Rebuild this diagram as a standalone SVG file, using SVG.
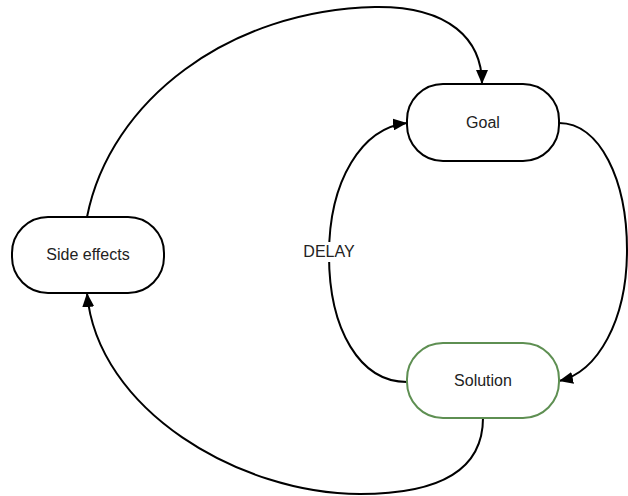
<svg xmlns="http://www.w3.org/2000/svg" width="628" height="496" viewBox="0 0 628 496">
  <style>
    .node { fill: #ffffff; stroke: #000000; stroke-width: 2; }
    .node.green { stroke: #5e8f52; }
    .edge { fill: none; stroke: #000000; stroke-width: 2; marker-end: url(#arrow); }
    .label { font-family: "Liberation Sans", Arial, sans-serif; font-size: 16px; fill: #222222; text-anchor: middle; }
  </style>
  <defs>
    <marker id="arrow" markerUnits="userSpaceOnUse" markerWidth="14" markerHeight="12" refX="14" refY="6" orient="auto">
      <path d="M0,0 L14,6 L0,12 z" fill="#000000"/>
    </marker>
  </defs>
  <rect width="628" height="496" fill="#ffffff"/>

  <g id="connectors">
    <!-- Side effects -> Goal (over the top) -->
    <path class="edge" d="M87,217 C 110,100 230,10 375,7 C 450,6 482,40 482,84"/>
    <!-- Goal -> Solution (right loop) -->
    <path class="edge" d="M559,123 C 600,123 627,180 627,250 C 627,320 598,372 559,381"/>
    <!-- Solution -> Goal (left loop, with DELAY) -->
    <path class="edge" d="M407,382 C 360,382 329,330 329,255 C 329,180 362,128 407,123"/>
    <!-- Solution -> Side effects (under the bottom) -->
    <path class="edge" d="M483,418 C 483,470 440,494 360,494 C 240,494 97,410 87,293"/>
    <g id="delay-label">
      <rect x="303" y="242" width="52" height="20" fill="#ffffff"/>
      <text class="label" x="329" y="257">DELAY</text>
    </g>
  </g>

  <g id="goal">
    <rect class="node" x="407" y="84" width="152" height="77" rx="36" ry="36"/>
    <text class="label" x="483" y="128">Goal</text>
  </g>
  <g id="side-effects">
    <rect class="node" x="12" y="217" width="152" height="76" rx="36" ry="36"/>
    <text class="label" x="88" y="260">Side effects</text>
  </g>
  <g id="solution">
    <rect class="node green" x="407" y="343" width="152" height="75" rx="36" ry="36"/>
    <text class="label" x="483" y="386">Solution</text>
  </g>
</svg>
